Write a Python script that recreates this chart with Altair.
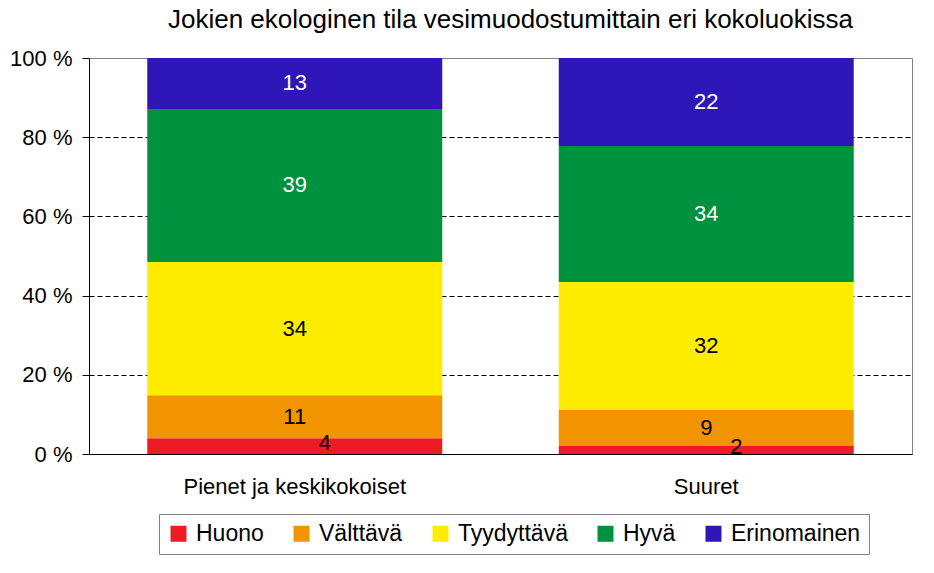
import altair as alt
import pandas as pd

categories = ["Pienet ja keskikokoiset", "Suuret"]
classes = ["Huono", "Välttävä", "Tyydyttävä", "Hyvä", "Erinomainen"]
pienet = [4, 11, 34, 39, 13]
suuret = [2, 9, 32, 34, 22]
colors = ["#ED1C24", "#F29400", "#FFED00", "#00923F", "#2E16B9"]
title_text = "Jokien ekologinen tila vesimuodostumittain eri kokoluokissa"

rows = []
for cat, vals in zip(categories, [pienet, suuret]):
    for i, (cls, v) in enumerate(zip(classes, vals)):
        rows.append({"cat": cat, "cls": cls, "value": v, "order": i})
df = pd.DataFrame(rows)

FONT = "Liberation Sans, Arial"

base = alt.Chart(df).transform_stack(
    stack="value",
    as_=["s0", "s1"],
    groupby=["cat"],
    offset="normalize",
    sort=[alt.SortField("order", order="ascending")],
).transform_calculate(
    p0="datum.s0 * 100",
    p1="datum.s1 * 100",
    mid="(datum.s0 + datum.s1) * 50",
)

x_enc = alt.X(
    "cat:N",
    sort=categories,
    scale=alt.Scale(paddingInner=0, paddingOuter=0),
    axis=alt.Axis(
        title=None,
        labelAngle=0,
        ticks=False,
        tickSize=0,
        domainColor="black",
        domainWidth=1,
        labelFontSize=22,
        labelFont=FONT,
        labelColor="black",
        labelBaseline="alphabetic",
        labelPadding=39,
        labelLimit=0,
    ),
)

bars = base.mark_bar(size=295).encode(
    x=x_enc,
    y=alt.Y(
        "p0:Q",
        scale=alt.Scale(domain=[0, 100], nice=False),
        axis=alt.Axis(
            title=None,
            values=[0, 20, 40, 60, 80, 100],
            labelExpr="datum.value + ' %'",
            labelFontSize=22,
            labelFont=FONT,
            labelColor="black",
            labelPadding=10,
            tickSize=7,
            tickColor="black",
            domainColor="black",
            grid=True,
            gridColor="black",
            gridDash=[5, 3],
            gridWidth=1,
            gridOpacity={"condition": {"test": "datum.value == 0 || datum.value == 100", "value": 0}, "value": 1},
        ),
    ),
    y2="p1:Q",
    color=alt.Color(
        "cls:N",
        scale=alt.Scale(domain=classes, range=colors),
        legend=alt.Legend(
            title=None,
            orient="none",
            direction="horizontal",
            columns=5,
            legendX=70,
            legendY=456,
            symbolType="square",
            symbolSize=256,
            symbolStrokeWidth=0,
            symbolOpacity=1,
            labelFontSize=23,
            labelFont=FONT,
            labelColor="black",
            labelOffset=6,
            labelLimit=0,
            columnPadding=26,
            padding=8,
            strokeColor="#808080",
            fillColor="white",
        ),
    ),
    order=alt.Order("order:Q"),
)

text_color = alt.condition(
    "datum.cls == 'Hyvä' || datum.cls == 'Erinomainen'",
    alt.value("white"),
    alt.value("black"),
)

labels = base.transform_filter("datum.cls != 'Huono'").mark_text(
    fontSize=22, font=FONT, baseline="middle"
).encode(
    x=alt.X("cat:N", sort=categories),
    y=alt.Y("mid:Q"),
    text=alt.Text("value:Q"),
    color=text_color,
)

labels_low = base.transform_filter("datum.cls == 'Huono'").mark_text(
    fontSize=22, font=FONT, baseline="middle", dx=30, dy=-3
).encode(
    x=alt.X("cat:N", sort=categories),
    y=alt.Y("mid:Q"),
    text=alt.Text("value:Q"),
    color=alt.value("black"),
)

chart = alt.layer(bars, labels, labels_low).properties(
    width=823,
    height=396,
    autosize=alt.AutoSizeParams(type="none"),
    padding={"left": 89, "top": 58, "right": 22, "bottom": 119},
    title=alt.TitleParams(
        text=title_text,
        fontSize=26,
        font=FONT,
        fontWeight="normal",
        color="black",
        anchor="middle",
        dx=10,
        offset=14,
    ),
).configure_view(
    stroke="#808080",
    strokeWidth=1,
)

chart.save("out.html", embed_options={"renderer": "svg", "actions": False})
